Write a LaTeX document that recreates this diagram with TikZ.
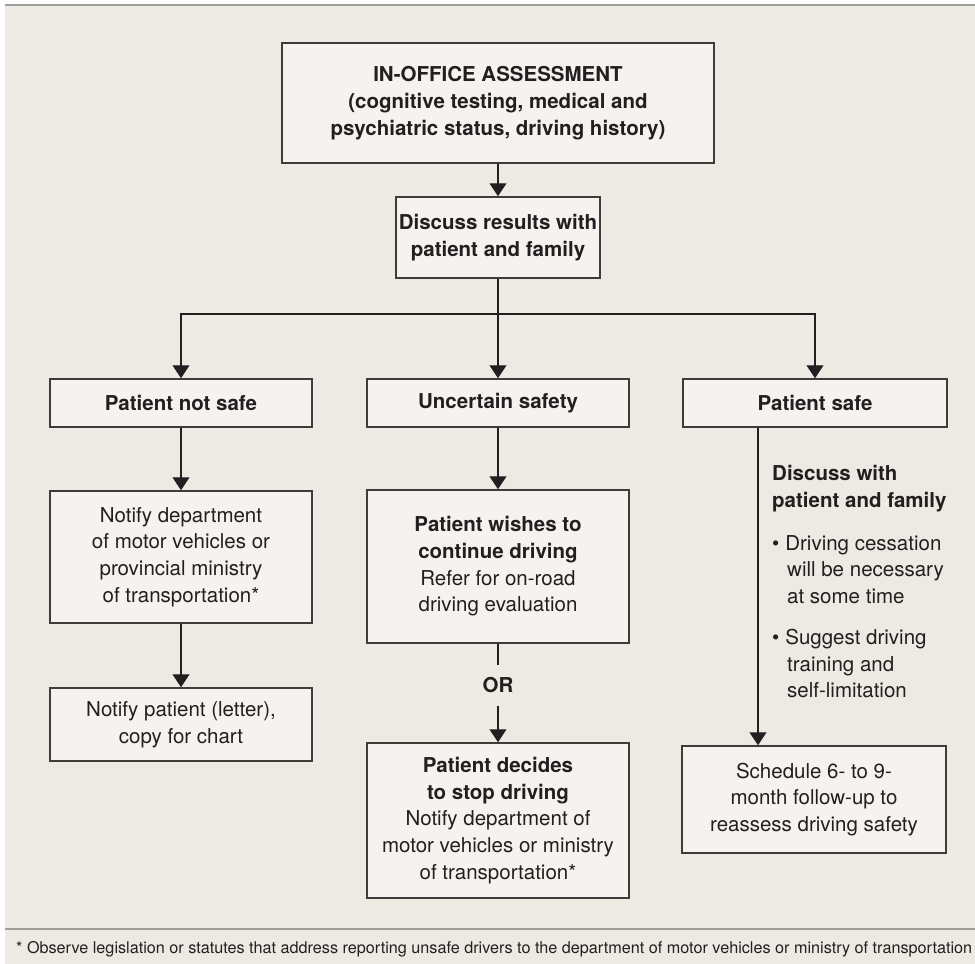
\documentclass[tikz,border=0pt]{standalone}
\usepackage{fontspec}
\setmainfont{TeX Gyre Heros}
\usetikzlibrary{arrows.meta}
\definecolor{panel}{HTML}{EDEAE3}
\definecolor{boxfill}{HTML}{F4F3EF}
\definecolor{boxline}{HTML}{3F3D3B}
\definecolor{ink}{HTML}{231F20}
\definecolor{rule}{HTML}{A09E9B}
\tikzset{
  txt/.style={text=ink, font=\fontsize{20.5}{26.7}\selectfont},
  heavy/.style={font=\fontsize{20.5}{26.7}\selectfont\bfseries},
  box/.style={txt, draw=boxline, fill=boxfill, line width=1.5pt, align=center, inner sep=0pt},
  link/.style={draw=ink, line width=1.2pt},
  tip/.style={link, -{Triangle[width=17pt,length=13pt]}},
}
\begin{document}
\begin{tikzpicture}[x=1pt, y=-1pt]
  % 背景
  \useasboundingbox (0,0) rectangle (975,964);
  \fill[panel] (5,5) rectangle (975,964);
  \draw[rule, line width=1.5pt] (5,5) -- (975,5);
  \draw[rule, line width=1.5pt] (5,929) -- (975,929);
  % 方框
  \node[box, heavy, minimum width=432pt, minimum height=120pt] (assess) at (498,103)
    {IN-OFFICE ASSESSMENT\\(cognitive testing, medical and\\psychiatric status, driving history)};
  \node[box, heavy, minimum width=204pt, minimum height=81pt] (discuss) at (498,237.5)
    {Discuss results with\\patient and family};
  \node[box, heavy, minimum width=262pt, minimum height=48pt] (notsafe) at (181,403)
    {Patient not safe};
  \node[box, heavy, minimum width=262pt, minimum height=48pt] (uncertain) at (498,403)
    {Uncertain safety};
  \node[box, heavy, minimum width=264pt, minimum height=48pt] (safe) at (815,403)
    {Patient safe};
  \node[box, minimum width=262pt, minimum height=132pt] (notifydmv) at (181,557)
    {Notify department\\of motor vehicles or\\provincial ministry\\of transportation*};
  \node[box, minimum width=262pt, minimum height=73pt] (notifypat) at (181,724.5)
    {Notify patient (letter),\\copy for chart};
  \node[box, minimum width=262pt, minimum height=153pt] (wishes) at (498,566.5)
    {\textbf{Patient wishes to}\\\textbf{continue driving}\\Refer for on-road\\driving evaluation};
  \node[txt, heavy, inner sep=0pt, minimum height=41pt] (or) at (498,685.5) {OR};
  \node[box, minimum width=262pt, minimum height=155pt] (decides) at (498,820.5)
    {\textbf{Patient decides}\\\textbf{to stop driving}\\Notify department of\\motor vehicles or ministry\\of transportation*};
  \node[box, minimum width=264pt, minimum height=107pt] (schedule) at (814,799.5)
    {Schedule 6- to 9-\\month follow-up to\\reassess driving safety};
  % 右栏文字
  \node[txt, heavy, anchor=north west, inner sep=0pt, align=left] (talk) at (772,465)
    {Discuss with\\patient and family};
  \node[txt, anchor=north west, inner sep=0pt, align=left] (tipone) at (772,535)
    {•\hspace{6pt}Driving cessation\\\hspace*{15pt}will be necessary\\\hspace*{15pt}at some time};
  \node[txt, anchor=north west, inner sep=0pt, align=left] (tiptwo) at (772,629)
    {•\hspace{6pt}Suggest driving\\\hspace*{15pt}training and\\\hspace*{15pt}self-limitation};
  % 脚注
  \node[anchor=base west, inner sep=0pt, text=ink, font=\fontsize{16.2}{19}\selectfont] (note) at (16,953)
    {* Observe legislation or statutes that address reporting unsafe drivers to the department of motor vehicles or ministry of transportation};
  % 连线
  \coordinate (split) at (498,314);
  \coordinate (stem) at (758,0);
  \draw[tip] (assess) -- (discuss);
  \draw[link] (discuss) -- (split);
  \draw[tip] (split) -| (notsafe.north);
  \draw[tip] (split) -- (uncertain);
  \draw[tip] (split) -| (safe.north);
  \draw[tip] (notsafe) -- (notifydmv);
  \draw[tip] (notifydmv) -- (notifypat);
  \draw[tip] (uncertain) -- (wishes);
  \draw[link] (wishes) -- (or);
  \draw[tip] (or) -- (decides);
  \draw[tip] (safe.south -| stem) -- (schedule.north -| stem);
\end{tikzpicture}
\end{document}
